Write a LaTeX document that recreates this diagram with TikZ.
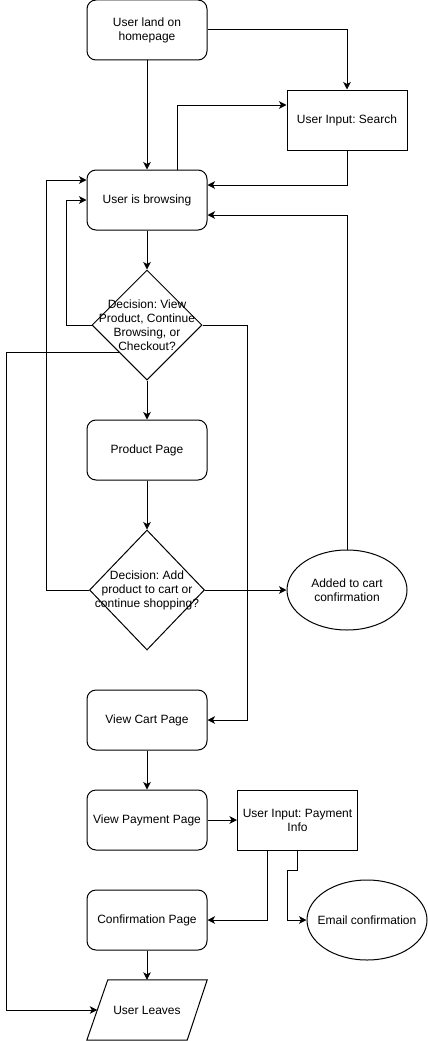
\documentclass[tikz,border=0pt]{standalone}
\usepackage{fontspec}
\setmainfont{Liberation Sans}
\frenchspacing
\usetikzlibrary{shapes.geometric,arrows.meta,calc}
\begin{document}
\begin{tikzpicture}[x=1pt,y=-1pt,
 every node/.style={font=\fontsize{12}{14}\selectfont, align=center},
 rbox/.style={draw, rounded corners=9pt, minimum width=120pt, minimum height=60pt, inner sep=0pt, line width=1pt},
 sbox/.style={draw, minimum width=120pt, minimum height=60pt, inner sep=0pt, line width=1pt},
 dia/.style={draw, diamond, inner sep=0pt, line width=1pt},
 ell/.style={draw, ellipse, minimum width=120pt, minimum height=80pt, inner sep=0pt, line width=1pt},
 lbl/.style={inner sep=0pt},
 arr/.style={line width=1pt, -{Stealth[length=7.5pt,width=7.5pt,inset=2pt]}}
]
\useasboundingbox (0,0) rectangle (428,1041);

% nodes
\node[rbox] (home) at (147,30) {User land on\\homepage};
\node[sbox] (search) at (347,120) {User Input: Search};
\node[rbox] (browse) at (147,200) {User is browsing};
\node[dia, minimum width=110pt, minimum height=110pt] (d1) at (147,325) {};
\node[lbl] (d1t) at (d1) {Decision: View\\Product, Continue\\Browsing, or\\Checkout?};
\node[rbox] (product) at (147,450) {Product Page};
\node[dia, minimum width=115pt, minimum height=120pt] (d2) at (147,590) {};
\node[lbl] (d2t) at (d2) {Decision: Add\\product to cart or\\continue shopping?};
\node[ell] (added) at (347,590) {};
\node[lbl] (addedt) at (added) {Added to cart\\confirmation};
\node[rbox] (cart) at (147,720) {View Cart Page};
\node[rbox] (payment) at (147,820) {View Payment Page};
\node[sbox] (payinfo) at (297.5,820) {User Input: Payment\\Info};
\node[rbox] (confirm) at (147,920) {Confirmation Page};
\node[ell] (email) at (367,920) {};
\node[lbl] (emailt) at (email) {Email confirmation};
\node[minimum width=120pt, minimum height=60pt, inner sep=0pt] (leaves) at (147,1010) {User Leaves};
\draw[line width=1pt] ($(leaves.north west)+(21,0)$) -- (leaves.north east) -- ($(leaves.south east)+(-20,0)$) -- (leaves.south west) -- cycle;
\coordinate (leavesL) at ($(leaves.west)+(10.5,0)$);

% connectors
\draw[arr] (home.south) -- (browse.north);
\draw[arr] (home.east) -| (search.north);
\draw[arr] ($(browse.north)+(30,0)$) |- ($(search.west)+(0,-15)$);
\draw[arr] (search.south) |- ($(browse.east)+(0,-15)$);
\draw[arr] (added.north) |- ($(browse.east)+(0,15)$);
\draw[arr] (browse.south) -- (d1.north);
\draw[arr] (d1.west) -- ++(-25,0) |- (browse.west);
\draw[arr] (d2.west) -- ++(-42.5,0) |- ($(browse.west)+(0,-20)$);
\draw[arr] (d1.east) -- ++(45,0) |- (cart.east);
\draw[arr] (d1.south) -- (product.north);
\draw[arr] ($(d1.west)!0.5!(d1.south)$) -- ++(-112.5,0) |- (leavesL);
\draw[arr] (product.south) -- (d2.north);
\draw[arr] (d2.east) -- (added.west);
\draw[arr] (cart.south) -- (payment.north);
\draw[arr] (payment.east) -- (payinfo.west);
\draw[arr] ($(payinfo.south)+(-30,0)$) |- (confirm.east);
\draw[arr] (payinfo.south) -- ++(0,20) -- ++(-10,0) |- (email.west);
\draw[arr] (confirm.south) -- (leaves.north);
\end{tikzpicture}
\end{document}
